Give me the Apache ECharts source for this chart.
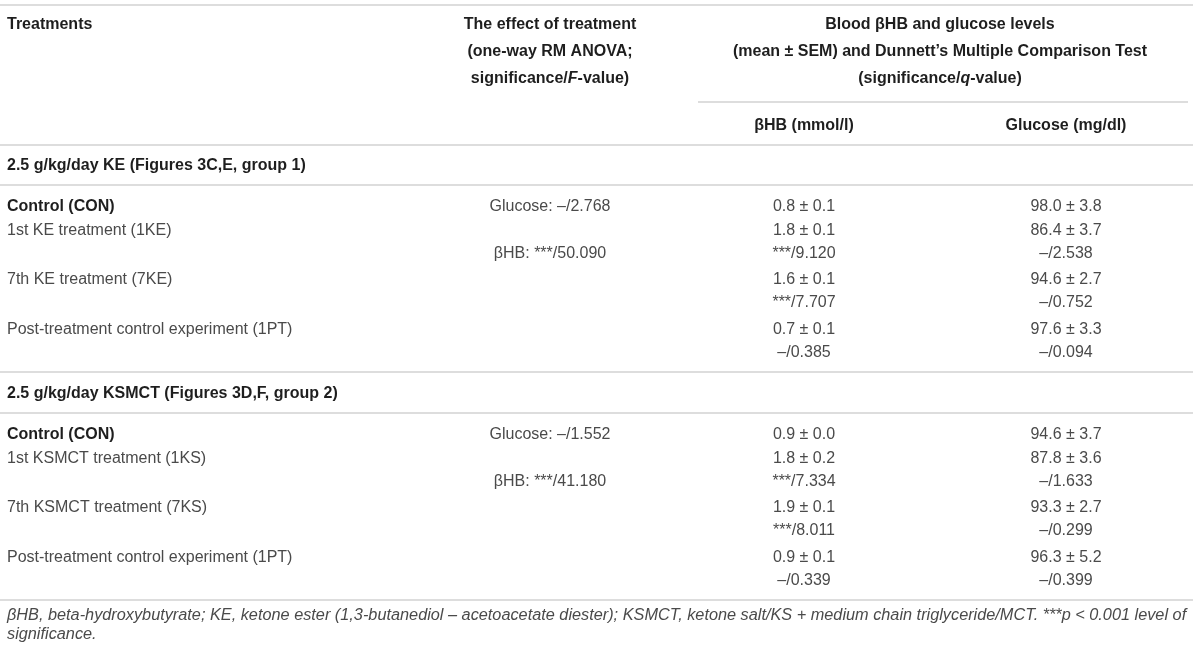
<!DOCTYPE html>
<html>
<head>
<meta charset="utf-8">
<script src="https://cdn.jsdelivr.net/npm/echarts@6/dist/echarts.min.js"></script>
<style>
  html, body { margin: 0; padding: 0; background: #fff; }
  #chart { width: 1200px; height: 651px; }
</style>
</head>
<body>
<div id="chart"></div>
<script>
// ---- table content ----
const headTreatments = 'Treatments';
const headEffect = ['The effect of treatment', '(one-way RM ANOVA;', 'significance/{bi|F}-value)'];
const headLevels = ['Blood βHB and glucose levels', '(mean ± SEM) and Dunnett’s Multiple Comparison Test', '(significance/{bi|q}-value)'];
const headUnits = ['βHB (mmol/l)', 'Glucose (mg/dl)'];

const groupTitles = ['2.5 g/kg/day KE (Figures 3C,E, group 1)', '2.5 g/kg/day KSMCT (Figures 3D,F, group 2)'];

const treatmentsKE = ['Control (CON)', '1st KE treatment (1KE)', '7th KE treatment (7KE)', 'Post-treatment control experiment (1PT)'];
const anovaKE = ['Glucose: –/2.768', 'βHB: ***/50.090'];
const bhbMeanKE = ['0.8 ± 0.1', '1.8 ± 0.1', '1.6 ± 0.1', '0.7 ± 0.1'];
const bhbTestKE = ['', '***/9.120', '***/7.707', '–/0.385'];
const gluMeanKE = ['98.0 ± 3.8', '86.4 ± 3.7', '94.6 ± 2.7', '97.6 ± 3.3'];
const gluTestKE = ['', '–/2.538', '–/0.752', '–/0.094'];

const treatmentsKS = ['Control (CON)', '1st KSMCT treatment (1KS)', '7th KSMCT treatment (7KS)', 'Post-treatment control experiment (1PT)'];
const anovaKS = ['Glucose: –/1.552', 'βHB: ***/41.180'];
const bhbMeanKS = ['0.9 ± 0.0', '1.8 ± 0.2', '1.9 ± 0.1', '0.9 ± 0.1'];
const bhbTestKS = ['', '***/7.334', '***/8.011', '–/0.339'];
const gluMeanKS = ['94.6 ± 3.7', '87.8 ± 3.6', '93.3 ± 2.7', '96.3 ± 5.2'];
const gluTestKS = ['', '–/1.633', '–/0.299', '–/0.399'];

const footnote = [
  'βHB, beta-hydroxybutyrate; KE, ketone ester (1,3-butanediol – acetoacetate diester); KSMCT, ketone salt/KS + medium chain triglyceride/MCT. ***p < 0.001 level of',
  'significance.'
];

// ---- layout (px in a 1200x651 value space) ----
const colLeft = 7, colEffect = 550, colLevels = 940, colBhb = 804, colGlu = 1066;
const headRows = [25, 52, 79], unitRow = 126;
const groupTop = [185, 413];          // rule under each group title
const rowOffsets = [22, 46, 95, 145]; // first line of each treatment, from groupTop
const lineGap = 23;

const cells = [];
const rules = [];
function cell(x, y, text, kind, align) { cells.push({ value: [x, y], text: text, kind: kind, align: align || 'center' }); }

cell(colLeft, headRows[0], headTreatments, 'head', 'left');
headEffect.forEach((t, i) => cell(colEffect, headRows[i], t, 'head'));
headLevels.forEach((t, i) => cell(colLevels, headRows[i], t, 'head'));
cell(colBhb, unitRow, headUnits[0], 'head');
cell(colGlu, unitRow, headUnits[1], 'head');

const groups = [
  [treatmentsKE, anovaKE, bhbMeanKE, bhbTestKE, gluMeanKE, gluTestKE],
  [treatmentsKS, anovaKS, bhbMeanKS, bhbTestKS, gluMeanKS, gluTestKS]
];
groups.forEach((g, gi) => {
  const top = groupTop[gi];
  cell(colLeft, top - 19, groupTitles[gi], 'head', 'left');
  g[0].forEach((t, i) => {
    const y = top + rowOffsets[i];
    cell(colLeft, y, t, i === 0 ? 'head' : 'body', 'left');
    cell(colBhb, y, g[2][i], 'body');
    cell(colGlu, y, g[4][i], 'body');
    if (g[3][i]) cell(colBhb, y + lineGap, g[3][i], 'body');
    if (g[5][i]) cell(colGlu, y + lineGap, g[5][i], 'body');
  });
  cell(colEffect, top + rowOffsets[0], g[1][0], 'body');
  cell(colEffect, top + rowOffsets[1] + lineGap, g[1][1], 'body');
  rules.push([0, 1193, top]);
  rules.push([0, 1193, top + 187]);
});
footnote.forEach((t, i) => cell(colLeft, 615 + i * 19, t, 'note', 'left'));

rules.push([0, 1193, 5]);
rules.push([698, 1188, 102]);
rules.push([0, 1193, 145]);

const FONT = '"Liberation Sans", Arial, Helvetica, sans-serif';
const kinds = {
  head: { font: 'bold 16px ' + FONT, fill: '#1e1e1e' },
  body: { font: '16px ' + FONT, fill: '#4a4a4a' },
  note: { font: 'italic 16.3px ' + FONT, fill: '#4a4a4a' }
};
const rich = {
  bi: { fontStyle: 'italic', fontWeight: 'bold', fontSize: 16, fontFamily: FONT, fill: '#1e1e1e' }
};

const chart = echarts.init(document.getElementById('chart'), null, { renderer: 'canvas' });
chart.setOption({
  animation: false,
  backgroundColor: '#fff',
  grid: { left: 0, right: 0, top: 0, bottom: 0 },
  xAxis: { type: 'value', min: 0, max: 1200, show: false },
  yAxis: { type: 'value', min: 0, max: 651, inverse: true, show: false },
  series: [
    {
      type: 'custom',
      clip: false,
      encode: { x: [0, 1], y: 2 },
      data: rules,
      renderItem: (params, api) => {
        const a = api.coord([api.value(0), api.value(2)]);
        const b = api.coord([api.value(1), api.value(2)]);
        return {
          type: 'line',
          shape: { x1: a[0], y1: a[1], x2: b[0], y2: b[1] },
          style: { stroke: '#d2d2d2', lineWidth: 1.6 }
        };
      }
    },
    {
      type: 'custom',
      clip: false,
      data: cells.map(c => c.value),
      renderItem: (params, api) => {
        const c = cells[params.dataIndex];
        const p = api.coord([api.value(0), api.value(1)]);
        const k = kinds[c.kind];
        return {
          type: 'text',
          x: p[0],
          y: p[1],
          style: {
            text: c.text,
            font: k.font,
            fill: k.fill,
            align: c.align,
            verticalAlign: 'middle',
            rich: rich
          }
        };
      }
    }
  ]
});
</script>
</body>
</html>
